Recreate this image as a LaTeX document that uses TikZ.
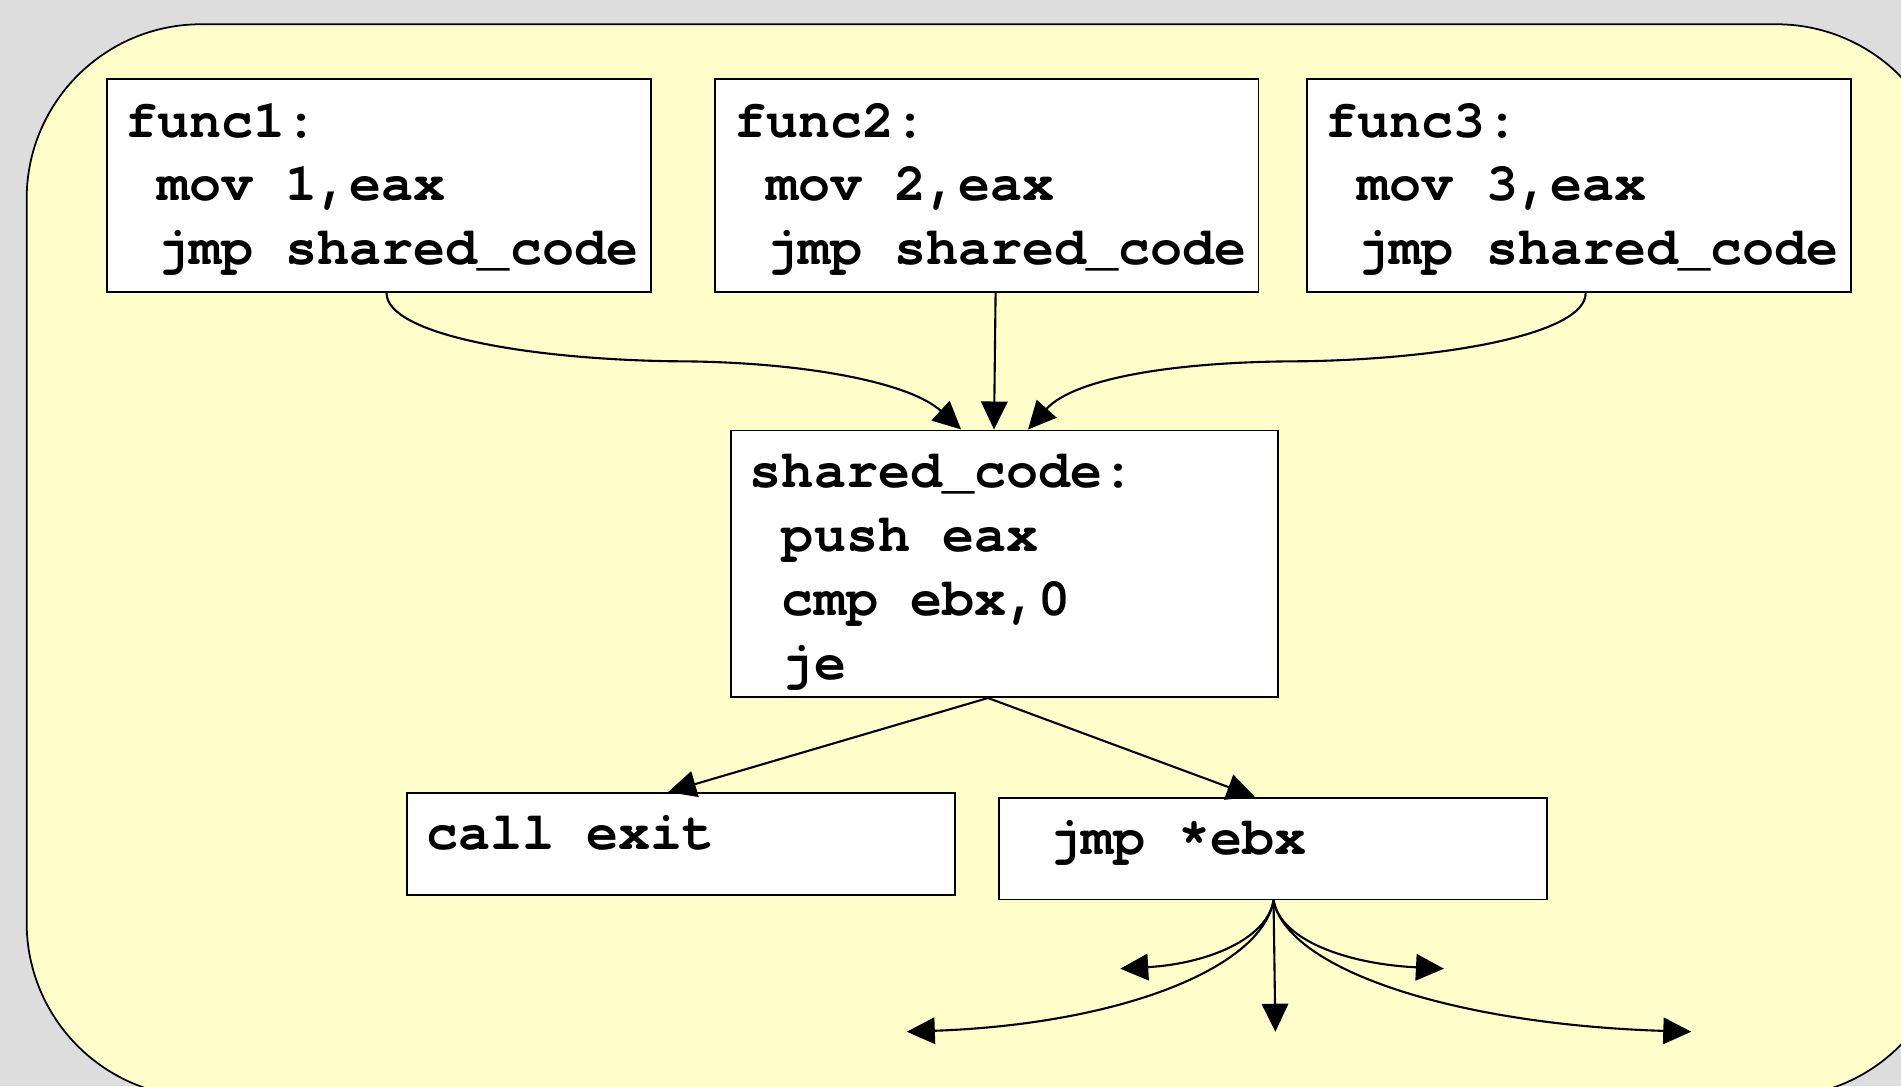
\documentclass[tikz,border=0pt]{standalone}
\usepackage{fontspec}
\setmonofont{TeX Gyre Cursor}
\usetikzlibrary{arrows.meta,fit,calc}
\definecolor{pagegrey}{HTML}{DDDDDD}
\definecolor{panelyellow}{HTML}{FFFFCC}
\newcommand\codeind{\hspace*{0.6em}}
\tikzset{
  box/.style={draw=black, line width=0.5pt, fill=white, rectangle, inner sep=0pt},
  code/.style={font=\ttfamily\bfseries\fontsize{15.2}{18.2}\selectfont, inner sep=0pt, anchor=base west},
  arr/.style={draw=black, line width=0.6pt, -{Triangle[length=0.28cm,width=0.265cm]}},
}
\begin{document}
\begin{tikzpicture}[x=0.012124cm, y=-0.012124cm]
\useasboundingbox (0,0) rectangle (1568,896);
\clip (0,0) rectangle (1568,896);
\fill[pagegrey] (0,0) rectangle (1568,896);
\draw[fill=panelyellow, line width=0.5pt, rounded corners=1.746cm] (22,20) rectangle (1609,905);

% boxes
\node[box, fit={(88,65) (537,241)}] (f1) {};
\node[box, fit={(590,65) (1038,241)}] (f2) {};
\node[box, fit={(1078,65) (1527,241)}] (f3) {};
\node[box, fit={(603,355) (1054,575)}] (sc) {};
\node[box, fit={(336,654) (788,738)}] (ce) {};
\node[box, fit={(824,658) (1276,742)}] (jb) {};

% texts
\node[code] (f1t) at (103,113) {\begin{tabular}[t]{@{}l@{}}func1:\\\codeind mov 1,eax\\\codeind jmp shared\_code\end{tabular}};
\node[code] (f2t) at (605,113) {\begin{tabular}[t]{@{}l@{}}func2:\\\codeind mov 2,eax\\\codeind jmp shared\_code\end{tabular}};
\node[code] (f3t) at (1093,113) {\begin{tabular}[t]{@{}l@{}}func3:\\\codeind mov 3,eax\\\codeind jmp shared\_code\end{tabular}};
\node[code] (sct) at (618,402) {\begin{tabular}[t]{@{}l@{}}shared\_code:\\\codeind push eax\\\codeind cmp ebx,0\\\codeind je\end{tabular}};
\node[code] (cet) at (351,701) {call exit};
\node[code] (jbt) at (839,705) {\codeind jmp *ebx};

% connectors from the three functions
\coordinate (f1o) at ($(f1.south west)!0.514!(f1.south east)$);
\coordinate (f2o) at ($(f2.south west)!0.516!(f2.south east)$);
\coordinate (f3o) at ($(f3.south west)!0.512!(f3.south east)$);
\coordinate (sci1) at ($(sc.north west)!0.421!(sc.north east)$);
\coordinate (sci2) at ($(sc.north west)!0.481!(sc.north east)$);
\coordinate (sci3) at ($(sc.north west)!0.543!(sc.north east)$);
\coordinate (m1) at (555,298);
\coordinate (m3) at (1075,298);
\draw[arr] (f1o) .. controls (319,275) and (430,296) .. (m1) .. controls (660,298) and (750,315) .. (sci1);
\draw[arr] (f2o) -- (sci2);
\draw[arr] (f3o) .. controls (1308,275) and (1195,296) .. (m3) .. controls (965,298) and (885,313) .. (sci3);

% shared_code branches
\coordinate (sco) at ($(sc.south west)!0.47!(sc.south east)$);
\draw[arr] (sco) -- ($(ce.north west)!0.476!(ce.north east)$);
\draw[arr] (sco) -- ($(jb.north west)!0.467!(jb.north east)$);

% indirect jump fan
\coordinate (jo) at ($(jb.south west)!0.501!(jb.south east)$);
\coordinate (t1) at (924,799);
\coordinate (t2) at (748,851);
\coordinate (t3) at (1052,851);
\coordinate (t4) at (1191,799);
\coordinate (t5) at (1395,851);
\draw[arr] (jo) .. controls (1045,775) and (995,795) .. (t1);
\draw[arr] (jo) .. controls (1040,800) and (920,845) .. (t2);
\draw[arr] (jo) -- (t3);
\draw[arr] (jo) .. controls (1056,775) and (1110,795) .. (t4);
\draw[arr] (jo) .. controls (1062,800) and (1200,845) .. (t5);
\end{tikzpicture}
\end{document}
